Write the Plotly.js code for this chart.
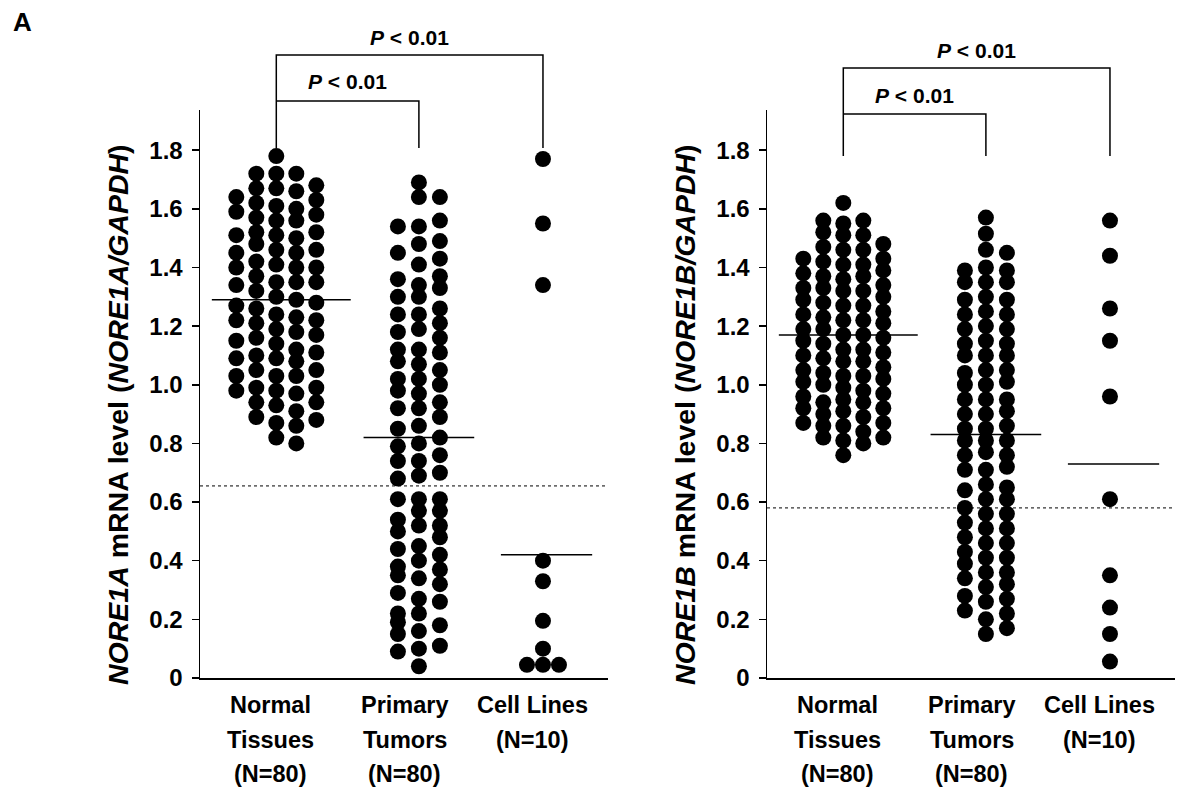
<!DOCTYPE html>
<html><head><meta charset="utf-8">
<script src="https://cdn.plot.ly/plotly-3.0.1.min.js"></script>
<style>html,body{margin:0;padding:0;background:#fff;} #chart{width:1177px;height:791px;}</style>
</head><body><div id="chart"></div>
<script>
// ---------- DATA ----------
const categories = ['Normal<br>Tissues<br>(N=80)', 'Primary<br>Tumors<br>(N=80)', 'Cell Lines<br>(N=10)'];
const tickVals = [0, 0.2, 0.4, 0.6, 0.8, 1.0, 1.2, 1.4, 1.6, 1.8];
const tickText = ['0', '0.2', '0.4', '0.6', '0.8', '1.0', '1.2', '1.4', '1.6', '1.8'];
const pLabel = '<i>P</i> < 0.01';

// NORE1A (values grouped by dot-plot column)
const nore1aNormal = [
  [1.64,1.59,1.51,1.45,1.40,1.34,1.27,1.22,1.15,1.09,1.03,0.98],
  [1.72,1.67,1.62,1.57,1.52,1.48,1.42,1.37,1.32,1.26,1.21,1.16,1.10,1.05,0.99,0.94,0.89],
  [1.78,1.72,1.67,1.61,1.56,1.51,1.46,1.41,1.35,1.30,1.24,1.19,1.14,1.09,1.03,0.98,0.93,0.87,0.82],
  [1.72,1.66,1.60,1.56,1.50,1.45,1.40,1.35,1.29,1.23,1.18,1.12,1.08,1.03,0.97,0.91,0.86,0.80],
  [1.68,1.63,1.58,1.52,1.46,1.40,1.35,1.28,1.22,1.17,1.11,1.05,0.99,0.94,0.88]
];
const nore1aPrimary = [
  [1.54,1.45,1.36,1.30,1.24,1.18,1.12,1.08,1.02,0.98,0.92,0.85,0.79,0.74,0.68,0.61,0.54,0.50,0.44,0.38,0.35,0.29,0.22,0.19,0.15,0.09],
  [1.69,1.64,1.54,1.48,1.41,1.34,1.30,1.24,1.19,1.12,1.07,1.02,0.97,0.92,0.86,0.80,0.74,0.69,0.61,0.57,0.52,0.45,0.40,0.34,0.27,0.22,0.16,0.10,0.04],
  [1.64,1.56,1.49,1.43,1.37,1.33,1.26,1.21,1.16,1.11,1.05,1.00,0.94,0.89,0.82,0.76,0.70,0.61,0.57,0.52,0.48,0.42,0.37,0.32,0.26,0.18,0.11]
];
const nore1aCell = [
  [0.045],
  [1.77,1.55,1.34,0.40,0.33,0.195,0.10,0.045],
  [0.045]
];
const nore1aMeans = [1.29, 0.82, 0.42];
const nore1aCutoff = 0.655;

// NORE1B
const nore1bNormal = [
  [1.43,1.38,1.33,1.29,1.24,1.19,1.15,1.10,1.05,1.01,0.96,0.92,0.87],
  [1.56,1.52,1.47,1.42,1.37,1.33,1.28,1.23,1.19,1.14,1.09,1.04,1.00,0.94,0.90,0.86,0.82],
  [1.62,1.55,1.51,1.46,1.41,1.36,1.32,1.27,1.22,1.17,1.12,1.08,1.03,0.99,0.95,0.91,0.86,0.81,0.76],
  [1.56,1.51,1.46,1.41,1.37,1.32,1.27,1.22,1.17,1.12,1.08,1.03,0.98,0.94,0.89,0.84,0.80],
  [1.48,1.43,1.39,1.34,1.30,1.25,1.21,1.16,1.11,1.06,1.02,0.97,0.92,0.87,0.82]
];
const nore1bPrimary = [
  [1.39,1.35,1.29,1.24,1.19,1.14,1.10,1.04,1.00,0.95,0.90,0.85,0.81,0.76,0.71,0.64,0.58,0.53,0.48,0.43,0.39,0.34,0.28,0.23],
  [1.57,1.515,1.46,1.40,1.35,1.30,1.25,1.20,1.15,1.10,1.05,1.00,0.95,0.90,0.85,0.81,0.77,0.71,0.66,0.61,0.56,0.51,0.46,0.41,0.36,0.31,0.26,0.20,0.15],
  [1.45,1.39,1.35,1.29,1.24,1.19,1.14,1.10,1.05,1.01,0.95,0.91,0.86,0.81,0.76,0.72,0.65,0.61,0.56,0.51,0.46,0.41,0.36,0.32,0.27,0.22,0.17]
];
const nore1bCell = [
  [1.56,1.44,1.26,1.15,0.96,0.61,0.35,0.24,0.15,0.056]
];
const nore1bMeans = [1.17, 0.83, 0.73];
const nore1bCutoff = 0.58;

// ---------- LAYOUT / STYLE ----------
const W = 1177, H = 791;
const FONT = 'Liberation Sans, Arial, Helvetica, sans-serif';
const groupPos = [1, 2, 2.87];
const xRange = [0.465, 3.326];
const panelPx = [[200, 608], [767, 1175]];
const plotTopPx = 110, plotBottomPx = 678;
const yTop = 1.937;
const pxPerUnit = (panelPx[0][1] - panelPx[0][0]) / (xRange[1] - xRange[0]);
const colSpacingPx = [20, 21, 16];
const meanShift = [0.035, 0, 0.025];
const meanHalf = [0.487, 0.388, 0.32];
const labelShift = [-0.04, -0.1, -0.07];

function py(p) { return (H - p) / H; }

const traces = [];
const shapes = [];
const annotations = [];

function panel(idx, groups, means, cutoff, titleText, bracketY) {
  const xa = idx === 0 ? 'x' : 'x2';
  const ya = idx === 0 ? 'y' : 'y2';
  const xs = [], ys = [];
  groups.forEach((cols, g) => {
    const n = cols.length;
    cols.forEach((col, c) => {
      const off = (c - (n - 1) / 2) * colSpacingPx[g] / pxPerUnit;
      col.forEach(v => { xs.push(groupPos[g] + off); ys.push(v); });
    });
  });
  traces.push({type: 'scatter', mode: 'markers', x: xs, y: ys, xaxis: xa, yaxis: ya,
    marker: {size: 16, color: '#000', line: {width: 0}}, hoverinfo: 'skip', cliponaxis: false});
  const mx = [], my = [];
  means.forEach((m, g) => {
    const c = groupPos[g] + meanShift[g];
    mx.push(c - meanHalf[g], c + meanHalf[g], null);
    my.push(m, m, null);
  });
  traces.push({type: 'scatter', mode: 'lines', x: mx, y: my, xaxis: xa, yaxis: ya,
    line: {color: '#000', width: 1.5}, hoverinfo: 'skip'});
  shapes.push({type: 'line', xref: xa + ' domain', yref: ya, x0: 0, x1: 1, y0: cutoff, y1: cutoff,
    line: {color: '#000', width: 1, dash: 'dot'}});
  // brackets
  const [outerY, innerY, endY] = bracketY;
  shapes.push({type: 'path', xref: xa, yref: 'paper', line: {color: '#000', width: 1.5},
    path: `M ${groupPos[0]} ${py(endY)} L ${groupPos[0]} ${py(outerY)} L ${groupPos[2]} ${py(outerY)} L ${groupPos[2]} ${py(endY)}`});
  shapes.push({type: 'path', xref: xa, yref: 'paper', line: {color: '#000', width: 1.5},
    path: `M ${groupPos[0]} ${py(innerY)} L ${groupPos[1]} ${py(innerY)} L ${groupPos[1]} ${py(endY)}`});
  annotations.push({xref: xa, yref: 'paper', x: (groupPos[0] + groupPos[2]) / 2, y: py(outerY - 17),
    text: '<b>' + pLabel + '</b>', showarrow: false, font: {family: FONT, size: 21, color: '#000'},
    xanchor: 'center', yanchor: 'middle'});
  annotations.push({xref: xa, yref: 'paper', x: (groupPos[0] + groupPos[1]) / 2, y: py(innerY - 19),
    text: '<b>' + pLabel + '</b>', showarrow: false, font: {family: FONT, size: 21, color: '#000'},
    xanchor: 'center', yanchor: 'middle'});
  // category labels
  categories.forEach((cat, g) => {
    cat.split('<br>').forEach((line, i) => {
      annotations.push({xref: xa, yref: 'paper', x: groupPos[g] + labelShift[g], y: py(705 + i * 34.5),
        text: '<b>' + line + '</b>', showarrow: false, xanchor: 'center', yanchor: 'middle',
        font: {family: FONT, size: 23.5, color: '#000'}});
    });
  });
  // y title
  annotations.push({xref: 'paper', yref: 'paper', x: (panelPx[idx][0] - 82) / W, y: py(415),
    text: titleText, textangle: -90, showarrow: false, xanchor: 'center', yanchor: 'middle',
    font: {family: FONT, size: 28.5, color: '#000'}});
}

panel(0, [nore1aNormal, nore1aPrimary, nore1aCell], nore1aMeans, nore1aCutoff,
  '<b><i>NORE1A</i> mRNA level (<i>NORE1A/GAPDH</i>)</b>', [55, 101, 148]);
panel(1, [nore1bNormal, nore1bPrimary, nore1bCell], nore1bMeans, nore1bCutoff,
  '<b><i>NORE1B</i> mRNA level (<i>NORE1B/GAPDH</i>)</b>', [68, 114, 156]);

annotations.push({xref: 'paper', yref: 'paper', x: 22 / W, y: py(22), text: '<b>A</b>', showarrow: false,
  xanchor: 'center', yanchor: 'middle', font: {family: FONT, size: 26, color: '#000'}});

function xaxis(idx) {
  return {domain: [panelPx[idx][0] / W, panelPx[idx][1] / W], range: xRange, showline: true,
    linecolor: '#000', linewidth: 1.5, showticklabels: false, ticks: '', showgrid: false, zeroline: false,
    anchor: idx === 0 ? 'y' : 'y2', fixedrange: true};
}
function yaxis(idx) {
  return {domain: [py(plotBottomPx), py(plotTopPx)], range: [0, yTop], showline: true,
    linecolor: '#000', linewidth: 1.5, ticks: 'outside', ticklen: 7, tickwidth: 1.5, tickcolor: '#000',
    tickvals: tickVals, ticktext: tickText.map(t => '<b>' + t + '</b>'), ticklabelstandoff: 4,
    tickfont: {family: FONT, size: 24, color: '#000'}, showgrid: false, zeroline: false,
    anchor: idx === 0 ? 'x' : 'x2', fixedrange: true};
}

const layout = {
  width: W, height: H, margin: {l: 0, r: 0, t: 0, b: 0}, showlegend: false,
  paper_bgcolor: '#fff', plot_bgcolor: '#fff',
  xaxis: xaxis(0), yaxis: yaxis(0), xaxis2: xaxis(1), yaxis2: yaxis(1),
  shapes: shapes, annotations: annotations,
  font: {family: FONT, color: '#000'}
};
Plotly.newPlot('chart', traces, layout, {displayModeBar: false, staticPlot: true});
</script></body></html>
